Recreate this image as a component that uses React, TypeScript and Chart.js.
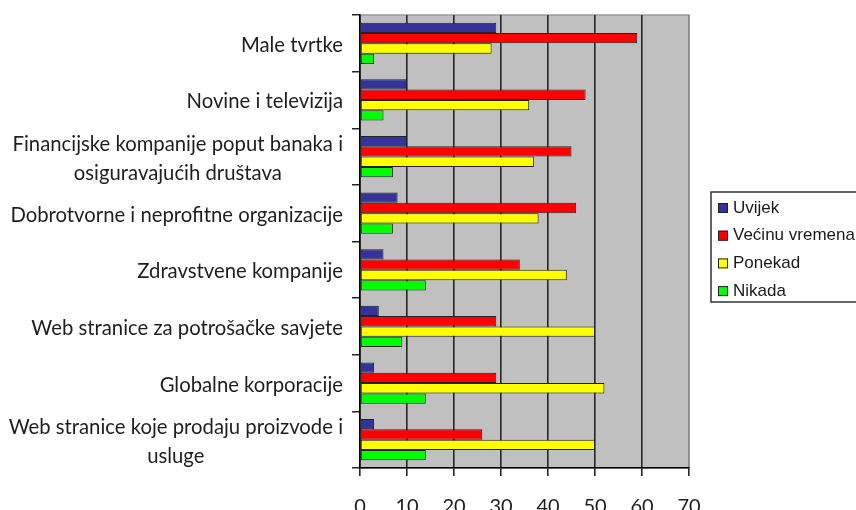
import React, { useEffect, useRef } from "react";
import { Chart, registerables } from "chart.js";

Chart.register(...registerables);

const categories: (string | string[])[] = [
  "Male tvrtke",
  "Novine i televizija",
  ["Financijske kompanije poput banaka i", "osiguravajućih društava"],
  "Dobrotvorne i neprofitne organizacije",
  "Zdravstvene kompanije",
  "Web stranice za potrošačke savjete",
  "Globalne korporacije",
  ["Web stranice koje prodaju proizvode i", "usluge"],
];

const seriesNames = ["Uvijek", "Većinu vremena", "Ponekad", "Nikada"];
const uvijek = [29, 10, 10, 8, 5, 4, 3, 3];
const vecinuVremena = [59, 48, 45, 46, 34, 29, 29, 26];
const ponekad = [28, 36, 37, 38, 44, 50, 52, 50];
const nikada = [3, 5, 7, 7, 14, 9, 14, 14];
const seriesColors = ["#333399", "#FF0000", "#FFFF00", "#00FF00"];

const xMin = 0;
const xMax = 70;
const xStep = 10;

const LABEL_FONT = "Lato, 'Open Sans', sans-serif";

const plotBgPlugin = {
  id: "plotBg",
  beforeDraw(chart: any) {
    const { ctx, chartArea } = chart;
    ctx.save();
    ctx.fillStyle = "#C0C0C0";
    ctx.fillRect(chartArea.left, chartArea.top, chartArea.right - chartArea.left, chartArea.bottom - chartArea.top);
    ctx.strokeStyle = "#9a9a9a";
    ctx.lineWidth = 1.5;
    ctx.strokeRect(chartArea.left, chartArea.top, chartArea.right - chartArea.left, chartArea.bottom - chartArea.top);
    ctx.restore();
  },
};

const yLabelsPlugin = {
  id: "yLabels",
  afterDraw(chart: any) {
    const { ctx, chartArea } = chart;
    const yScale = chart.scales.y;
    ctx.save();
    ctx.font = `20.3px ${LABEL_FONT}`;
    ctx.fillStyle = "#1e1e1e";
    ctx.textAlign = "center";
    ctx.textBaseline = "middle";
    const right = chartArea.left - 17;
    const lineH = 29;
    categories.forEach((lab, i) => {
      const lines = Array.isArray(lab) ? lab : [lab];
      const w = Math.max(...lines.map((l) => ctx.measureText(l).width));
      const cx = right - w / 2;
      const cy = yScale.getPixelForValue(i);
      lines.forEach((l, j) => {
        ctx.fillText(l, cx, cy + (j - (lines.length - 1) / 2) * lineH + 2);
      });
    });
    ctx.restore();
  },
};

const boxLegendPlugin = {
  id: "boxLegend",
  afterDraw(chart: any) {
    const { ctx, chartArea } = chart;
    const left = chartArea.right + 22;
    const top = 192;
    ctx.save();
    ctx.strokeStyle = "#333333";
    ctx.lineWidth = 1.5;
    ctx.strokeRect(left, top, 220, 110);
    ctx.font = "17px 'Liberation Sans', Arial, sans-serif";
    ctx.textBaseline = "middle";
    ctx.textAlign = "left";
    chart.data.datasets.forEach((ds: any, i: number) => {
      const cy = top + 16 + i * 27.7;
      ctx.fillStyle = ds.backgroundColor;
      ctx.fillRect(left + 7, cy - 5, 10, 10);
      ctx.strokeStyle = "#222222";
      ctx.lineWidth = 1;
      ctx.strokeRect(left + 7.5, cy - 4.5, 9, 9);
      ctx.fillStyle = "#1a1a1a";
      ctx.fillText(ds.label, left + 22, cy);
    });
    ctx.restore();
  },
};

export default function App() {
  const ref = useRef<HTMLCanvasElement | null>(null);

  useEffect(() => {
    if (!ref.current) return;
    const values = [uvijek, vecinuVremena, ponekad, nikada];
    const chart = new Chart(ref.current, {
      type: "bar",
      data: {
        labels: categories as any,
        datasets: seriesNames.map((name, i) => ({
          label: name,
          data: values[i],
          backgroundColor: seriesColors[i],
          borderColor: "#222222",
          borderWidth: 1,
          borderSkipped: false,
          categoryPercentage: 0.73,
          barPercentage: 1.0,
        })),
      },
      options: {
        indexAxis: "y",
        responsive: false,
        animation: false,
        devicePixelRatio: 1,
        layout: { padding: { top: 15, right: 167, left: 0, bottom: 0 } },
        plugins: {
          legend: { display: false },
          tooltip: { enabled: false },
        },
        scales: {
          x: {
            min: xMin,
            max: xMax,
            ticks: {
              stepSize: xStep,
              font: { family: LABEL_FONT, size: 20 },
              color: "#1e1e1e",
              padding: 19,
            },
            grid: {
              color: (ctx: any) => (ctx.tick && ctx.tick.value === xMax ? "#8a8a8a" : "#262626"),
              lineWidth: 1.6,
              tickLength: 8,
              tickColor: "#262626",
            },
            border: { display: true, color: "#000000", width: 1.5 },
            afterFit: (s: any) => {
              s.height = 42;
            },
          },
          y: {
            ticks: { display: false },
            grid: {
              drawOnChartArea: false,
              drawTicks: true,
              tickLength: 8,
              tickColor: "#262626",
              lineWidth: 1.5,
            },
            border: { display: true, color: "#000000", width: 1.5 },
            afterFit: (s: any) => {
              s.width = 360;
            },
          },
        },
      } as any,
      plugins: [plotBgPlugin, yLabelsPlugin, boxLegendPlugin],
    });
    return () => chart.destroy();
  }, []);

  return (
    <div style={{ position: "fixed", left: 0, top: 0, width: 856, height: 510, overflow: "hidden", background: "#ffffff" }}>
      <canvas ref={ref} width={856} height={510} style={{ width: 856, height: 510, display: "block" }} />
    </div>
  );
}
